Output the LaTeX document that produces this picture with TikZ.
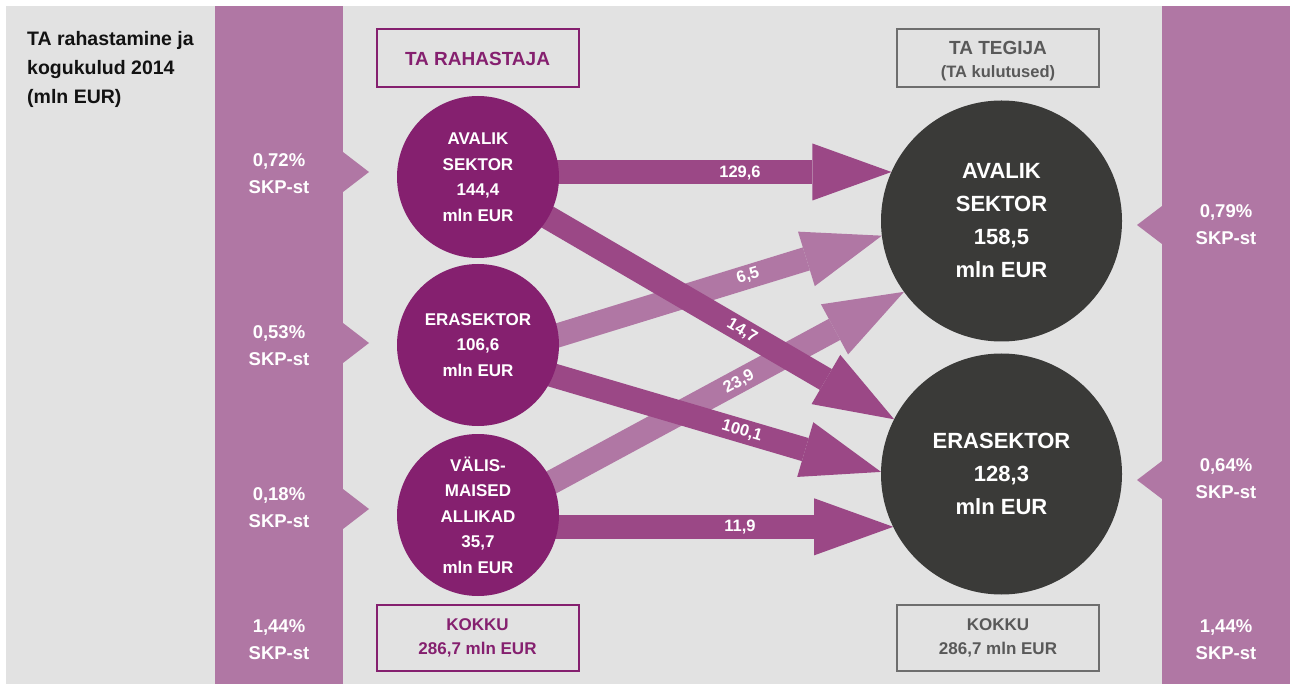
\documentclass[tikz,border=0pt]{standalone}
\usepackage{fontspec}
\setmainfont{Liberation Sans}
\usetikzlibrary{arrows.meta,calc}
\pgfdeclarelayer{bg}
\pgfdeclarelayer{arr}
\pgfsetlayers{bg,arr,main}
\definecolor{cbg}{HTML}{E2E2E2}
\definecolor{cbar}{HTML}{B077A4}
\definecolor{cmag}{HTML}{85206F}
\definecolor{cflow}{HTML}{9B4886}
\definecolor{cdark}{HTML}{3A3A38}
\definecolor{cgraytxt}{HTML}{595959}
\definecolor{cgrayline}{HTML}{6E6E6E}
\begin{document}
\begin{tikzpicture}[x=1pt,y=-1pt,
  pct/.style={font=\bfseries\fontsize{18.5}{27}\selectfont, text=white, align=center, inner sep=0pt},
  src/.style={circle, fill=cmag, minimum size=162pt, inner sep=0pt, outer sep=0pt, text=white, align=center, font=\bfseries\fontsize{17}{25.5}\selectfont},
  dst/.style={circle, fill=cdark, minimum size=241pt, inner sep=0pt, outer sep=0pt, text=white, align=center, font=\bfseries\fontsize{22}{33}\selectfont},
  flow/.style={line width=24pt, -{Triangle[length=79pt,width=57pt,line width=0pt]}, shorten <=-30pt},
  flab/.style={font=\bfseries\fontsize{16.5}{16.5}\selectfont, text=white, inner sep=0pt},
  purplebox/.style={draw=cmag, line width=2pt, minimum width=202pt, text=cmag, align=center, inner sep=0pt},
  graybox/.style={draw=cgrayline, line width=2pt, minimum width=202pt, text=cgraytxt, align=center, inner sep=0pt},
]
\useasboundingbox (0,0) rectangle (1290,684);
\begin{pgfonlayer}{bg}
  \fill[white] (0,0) rectangle (1290,684);
  \fill[cbg] (6,6) rectangle (1290,684);
  \fill[cbar] (215,6) rectangle (343,684);
  \fill[cbar] (1162,6) rectangle (1290,684);
  % pointers from left bar
  \fill[cbar] (343,152) -- (369,172) -- (343,192) -- cycle;
  \fill[cbar] (343,323) -- (369,343) -- (343,363) -- cycle;
  \fill[cbar] (343,489) -- (369,509) -- (343,529) -- cycle;
  % pointers from right bar
  \fill[cbar] (1162,206) -- (1137,225) -- (1162,244) -- cycle;
  \fill[cbar] (1162,461) -- (1137,480) -- (1162,499) -- cycle;
\end{pgfonlayer}

% title
\node[anchor=north west, inner sep=0pt, align=left, font=\bfseries\fontsize{19.5}{29}\selectfont, text=black!93] (title) at (27,31.5)
  {TA rahastamine ja\\kogukulud 2014\\(mln EUR)};

% percentages
\node[pct] (pl1) at (279,174) {0,72\%\\SKP-st};
\node[pct] (pl2) at (279,346) {0,53\%\\SKP-st};
\node[pct] (pl3) at (279,508) {0,18\%\\SKP-st};
\node[pct] (pl4) at (279,640) {1,44\%\\SKP-st};
\node[pct] (pr1) at (1226,225) {0,79\%\\SKP-st};
\node[pct] (pr2) at (1226,479) {0,64\%\\SKP-st};
\node[pct] (pr3) at (1226,640) {1,44\%\\SKP-st};

% header boxes
\node[purplebox, minimum height=58pt, font=\bfseries\fontsize{19}{22}\selectfont] (hfund) at (477.5,58.5) {TA RAHASTAJA};
\node[graybox, minimum width=202pt, minimum height=58pt] (hperf) at (998,58.5) {};
\node[text=cgraytxt, align=center, inner sep=0pt, font=\bfseries\fontsize{19}{23}\selectfont] (hperft) at (998,61)
  {TA TEGIJA\\\fontsize{16.5}{23}\selectfont (TA kulutused)};

% totals
\node[purplebox, minimum height=66pt, font=\bfseries\fontsize{17}{24}\selectfont] (tfund) at (477.5,637.5) {KOKKU\\286,7 mln EUR};
\node[graybox, minimum height=66pt, font=\bfseries\fontsize{17}{24}\selectfont] (tperf) at (998,637.5) {KOKKU\\286,7 mln EUR};

% circles
\node[src] (L1) at (478,177) {AVALIK\\SEKTOR\\144,4\\mln EUR};
\node[src] (L2) at (478,345) {ERASEKTOR\\106,6\\mln EUR};
\node[src] (L3) at (478,515) {VÄLIS-\\MAISED\\ALLIKAD\\35,7\\mln EUR};
\node[dst] (R1) at (1001.5,221) {AVALIK\\SEKTOR\\158,5\\mln EUR};
\node[dst] (R2) at (1001.5,474) {ERASEKTOR\\128,3\\mln EUR};

% flows
\begin{pgfonlayer}{arr}
  \draw[flow, cbar] (L2.7.8) -- (R1.187.6);
  \draw[flow, cbar] (L3.24) -- (R1.216.5);
  \draw[flow, cflow] (L1.center |- R1.156.3) -- (R1.156.3);
  \draw[flow, cflow] (L1.-30) -- (R2.153.7);
  \draw[flow, cflow] (L2.-22.5) -- (R2.179.5);
  \draw[flow, cflow] (L3.center |- R2.-154.2) -- (R2.-154.2);
\end{pgfonlayer}

% flow labels
\node[flab] (f1) at (740,173) {129,6};
\node[flab, rotate=16.7] (f2) at (748,276) {6,5};
\node[flab, rotate=-30.4] (f3) at (742,331) {14,7};
\node[flab, rotate=28.3] (f4) at (739,382) {23,9};
\node[flab, rotate=-16.5] (f5) at (742,431) {100,1};
\node[flab] (f6) at (740,527) {11,9};
\end{tikzpicture}
\end{document}
